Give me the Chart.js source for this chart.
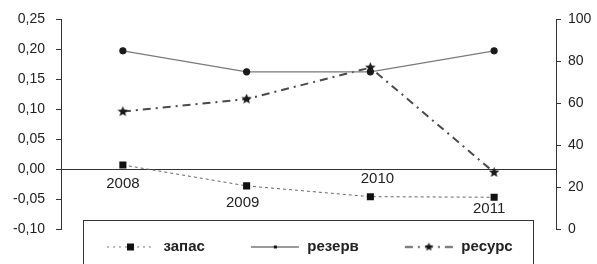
<!DOCTYPE html>
<html><head><meta charset="utf-8">
<script src="https://cdn.jsdelivr.net/npm/chart.js@4.4.1/dist/chart.umd.min.js"></script>
<style>html,body{margin:0;padding:0;background:#fff;}</style>
</head><body>
<canvas id="c" width="597" height="264"></canvas>
<script>
// ---- data ----
const categories = ['2008', '2009', '2010', '2011'];
const zapas  = [0.007, -0.028, -0.046, -0.047];   // left axis
const rezerv = [85, 75, 75, 85];                  // right axis
const resurs = [56, 62, 77, 27];                  // right axis
const seriesNames = ['запас', 'резерв', 'ресурс'];
const leftMin = -0.10, leftMax = 0.25, leftStep = 0.05;
const rightMin = 0, rightMax = 100, rightStep = 20;

// ---- style ----
const FONT = 'Liberation Sans, Arial, sans-serif';
const INK = '#222';
const labelDx = [0, -4, 7, -5];
const labelDy = [15, 34, 10, 40];

function starCanvas(size, color) {
  const c = document.createElement('canvas'); c.width = size; c.height = size;
  const g = c.getContext('2d'); const cx = size / 2, cy = size / 2, R = size / 2, r = R * 0.45;
  g.fillStyle = color; g.beginPath();
  for (let i = 0; i < 10; i++) {
    const a = -Math.PI / 2 + i * Math.PI / 5; const rr = i % 2 ? r : R;
    g.lineTo(cx + rr * Math.cos(a), cy + rr * Math.sin(a));
  }
  g.closePath(); g.fill(); return c;
}
const starPt = starCanvas(11, '#1a1a1a');

function legendIcon(kind) {
  const c = document.createElement('canvas'); c.width = 85; c.height = 14;
  const g = c.getContext('2d'); const y = 7.5;
  g.beginPath();
  if (kind === 0) { g.strokeStyle = '#777'; g.lineWidth = 1; g.setLineDash([2, 4]); }
  if (kind === 1) { g.strokeStyle = '#333'; g.lineWidth = 1.2; }
  if (kind === 2) { g.strokeStyle = '#333'; g.lineWidth = 1.6; g.setLineDash([8, 5, 2, 5]); }
  g.moveTo(36, y); g.lineTo(84, y); g.stroke(); g.setLineDash([]);
  g.fillStyle = '#111';
  if (kind === 0) g.fillRect(56, y - 3.5, 7, 7);
  if (kind === 1) g.fillRect(59, y - 1.5, 3, 3);
  if (kind === 2) g.drawImage(starCanvas(9, '#111'), 55.5, y - 4.5);
  return c;
}
const icons = [legendIcon(0), legendIcon(1), legendIcon(2)];

const fmt = v => { if (Math.abs(v) < 1e-9) v = 0; return v.toFixed(2).replace('.', ','); };

const catLabels = {
  id: 'catLabels',
  afterDraw(chart) {
    const ctx = chart.ctx, xs = chart.scales.x, ys = chart.scales.y;
    const y0 = ys.getPixelForValue(0);
    ctx.save(); ctx.fillStyle = INK; ctx.font = '15px ' + FONT;
    ctx.textAlign = 'center'; ctx.textBaseline = 'middle';
    categories.forEach((c, i) => ctx.fillText(c, xs.getPixelForValue(i) + labelDx[i], y0 + labelDy[i]));
    const lg = chart.legend;
    ctx.strokeStyle = '#333'; ctx.lineWidth = 1;
    ctx.strokeRect(Math.round(lg.left + 22) + 0.5, Math.round(lg.top - 9) + 0.5, lg.width - 45, 60);
    ctx.restore();
  }
};

new Chart(document.getElementById('c'), {
  type: 'line',
  data: {
    labels: categories,
    datasets: [
      { label: seriesNames[0], data: zapas, yAxisID: 'y', borderColor: '#666', borderWidth: 1, borderDash: [3, 3],
        pointStyle: 'rect', pointRadius: 5, pointBackgroundColor: '#111', pointBorderColor: '#111', pointBorderWidth: 0, tension: 0 },
      { label: seriesNames[1], data: rezerv, yAxisID: 'y1', borderColor: '#7a7a7a', borderWidth: 1.2,
        pointStyle: 'circle', pointRadius: 3, pointBackgroundColor: '#1a1a1a', pointBorderColor: '#1a1a1a', tension: 0 },
      { label: seriesNames[2], data: resurs, yAxisID: 'y1', borderColor: '#4a4a4a', borderWidth: 2, borderDash: [8, 5, 2, 5],
        pointStyle: starPt, pointRadius: 5, tension: 0 }
    ]
  },
  options: {
    responsive: false, animation: false,
    layout: { padding: { top: 18, bottom: 0, left: 0, right: 0 } },
    plugins: {
      tooltip: { enabled: false },
      legend: {
        position: 'bottom', fullSize: false, align: 'start',
        labels: {
          usePointStyle: true, pointStyleWidth: 85, padding: 10, color: INK,
          font: { family: FONT, size: 15, weight: 'bold' },
          generateLabels: chart => chart.data.datasets.map((ds, i) => ({
            text: ds.label, pointStyle: icons[i], datasetIndex: i, hidden: false,
            lineWidth: 0, strokeStyle: 'rgba(0,0,0,0)', fillStyle: 'rgba(0,0,0,0)', fontColor: INK
          }))
        }
      }
    },
    scales: {
      x: { type: 'category', offset: true, display: false },
      y: {
        position: 'left', min: leftMin, max: leftMax,
        ticks: { stepSize: leftStep, callback: v => fmt(v), color: INK, padding: 11, font: { family: FONT, size: 14 } },
        grid: { color: c => (c.tick && Math.abs(c.tick.value) < 1e-9) ? '#333' : 'rgba(0,0,0,0)',
                tickColor: '#333', tickLength: 5, lineWidth: 1 },
        border: { display: true, color: '#333', width: 1 },
        afterFit: s => { s.width = 61; }
      },
      y1: {
        position: 'right', min: rightMin, max: rightMax,
        ticks: { stepSize: rightStep, color: INK, padding: 7, font: { family: FONT, size: 14 } },
        grid: { drawOnChartArea: false, tickColor: '#333', tickLength: 5 },
        border: { display: true, color: '#333', width: 1 },
        afterFit: s => { s.width = 41; }
      }
    }
  },
  plugins: [catLabels]
});
</script>
</body></html>
